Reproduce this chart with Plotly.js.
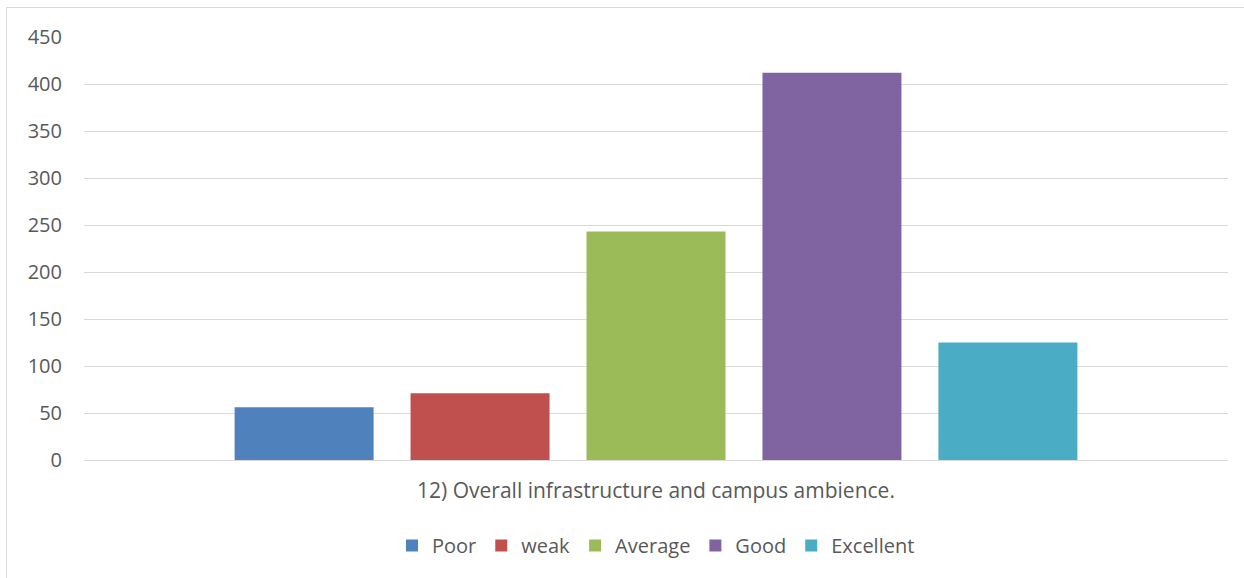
<!DOCTYPE html>
<html>
<head>
<meta charset="utf-8">
<script src="https://cdn.plot.ly/plotly-3.0.1.min.js"></script>
<style>
html,body{margin:0;padding:0;background:#fff;}
#chart{width:1244px;height:578px;}
</style>
</head>
<body>
<div id="chart"></div>
<script>
const category = ["12) Overall infrastructure and campus ambience."];
const seriesNames = ["Poor", "weak", "Average", "Good", "Excellent"];
const seriesValues = [56, 71, 243, 412, 125];
const seriesColors = ["#4f81bd", "#c0504d", "#9bbb59", "#8064a2", "#4bacc6"];
const yTicks = [0, 50, 100, 150, 200, 250, 300, 350, 400, 450];

const traces = seriesNames.map((name, i) => ({
  type: "bar",
  name: name,
  x: category,
  y: [seriesValues[i]],
  marker: {color: seriesColors[i]},
  hoverinfo: "name+y"
}));

const W = 1244, H = 578, L = 84, R = 16, T = 37, B = 118;
const pw = W - L - R, ph = H - T - B;
const px = v => (v - L) / pw;
const py = v => (H - B - v) / ph;
const FONT = "Open Sans, Liberation Sans, Arial, sans-serif";

const layout = {
  width: W, height: H,
  margin: {l: L, r: R, t: T, b: B, pad: 0},
  paper_bgcolor: "#ffffff",
  plot_bgcolor: "#ffffff",
  font: {family: FONT, size: 20, color: "#595959"},
  barmode: "group",
  bargap: 0.231,
  bargroupgap: 0.21,
  showlegend: true,
  legend: {
    orientation: "h", x: 0.5, xanchor: "center", y: py(545.5), yanchor: "middle",
    font: {family: FONT, size: 20, color: "#595959"}, itemclick: false, traceorder: "normal",
    itemwidth: 30
  },
  xaxis: {
    type: "category",
    showgrid: false, showline: false, zeroline: false,
    ticks: "", ticklabelstandoff: 16,
    tickfont: {family: FONT, size: 21, color: "#595959"}
  },
  yaxis: {
    range: [0, 450], tickvals: yTicks, ticktext: yTicks.map(String),
    showgrid: true, gridcolor: "#d9d9d9", gridwidth: 1,
    zeroline: true, zerolinecolor: "#d9d9d9", zerolinewidth: 1,
    showline: false, ticks: "", ticklabelstandoff: 21,
    tickfont: {family: FONT, size: 20, color: "#595959"}
  },
  shapes: [
    {type: "line", xref: "paper", yref: "paper", x0: px(6.5), x1: px(1244), y0: py(7.5), y1: py(7.5), line: {color: "#d9d9d9", width: 1}},
    {type: "line", xref: "paper", yref: "paper", x0: px(6.5), x1: px(6.5), y0: py(7.5), y1: py(578), line: {color: "#d9d9d9", width: 1}}
  ]
};

Plotly.newPlot("chart", traces, layout, {displayModeBar: false, staticPlot: true});
</script>
</body>
</html>
